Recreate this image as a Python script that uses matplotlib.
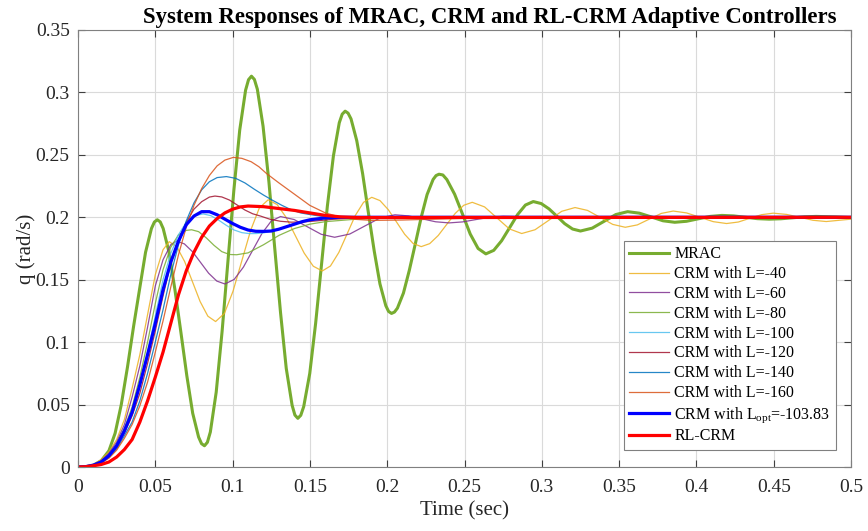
import matplotlib
matplotlib.use("Agg")
import matplotlib.pyplot as plt

# ---- data (time in s, q in rad/s) ----
t_mrac = [0, 0.005, 0.01, 0.015, 0.02, 0.024, 0.028, 0.032, 0.036, 0.0399, 0.0437, 0.0475, 0.0494, 0.0513, 0.0532,
          0.0551, 0.0589, 0.0627, 0.0666, 0.0704, 0.0742, 0.078, 0.0799, 0.0818, 0.0837,
          0.0856, 0.0894, 0.0932, 0.097, 0.1008, 0.1046, 0.1084, 0.1103, 0.1122, 0.1141,
          0.116, 0.1197, 0.1235, 0.1272, 0.131, 0.1347, 0.1385, 0.1403, 0.1422, 0.1441,
          0.146, 0.1499, 0.1537, 0.1575, 0.1613, 0.1652, 0.169, 0.1709, 0.1728, 0.1747,
          0.1766, 0.1803, 0.1841, 0.1878, 0.1916, 0.1953, 0.1991, 0.2009, 0.2028, 0.2047,
          0.2066, 0.2105, 0.2143, 0.2182, 0.222, 0.2258, 0.2297, 0.2316, 0.2335, 0.236,
          0.2386, 0.2436, 0.2487, 0.2537, 0.2588, 0.2638,
          0.2689, 0.274, 0.2792, 0.2843, 0.2894, 0.2945,
          0.2996, 0.3047, 0.3098, 0.3148, 0.3199, 0.325,
          0.3326, 0.3403, 0.3479, 0.3555,
          0.3631, 0.3708, 0.3784, 0.386,
          0.3936, 0.4013, 0.4089, 0.4165,
          0.4241, 0.4318, 0.4394, 0.447,
          0.4546, 0.4623, 0.4699, 0.4775,
          0.49, 0.5]
q_mrac = [0, 0.0002, 0.0015, 0.005, 0.013, 0.027, 0.05, 0.08, 0.113, 0.143, 0.172, 0.191, 0.1962, 0.198, 0.1963,
          0.191, 0.172, 0.142, 0.1075, 0.073, 0.043, 0.024, 0.0187, 0.017, 0.0198,
          0.028, 0.060, 0.1085, 0.165, 0.2215, 0.2698, 0.3018, 0.3102, 0.313, 0.3104,
          0.3026, 0.273, 0.2283, 0.176, 0.1237, 0.079, 0.0494, 0.0416, 0.039, 0.0414,
          0.0484, 0.0749, 0.115, 0.162, 0.209, 0.2491, 0.2757, 0.2826, 0.285, 0.2834,
          0.2788, 0.2614, 0.235, 0.204, 0.173, 0.1467, 0.1292, 0.1246, 0.123, 0.1241,
          0.1272, 0.1393, 0.1575, 0.1788, 0.200, 0.2182, 0.2303, 0.2334, 0.2345, 0.2339,
          0.2302, 0.2185, 0.2026, 0.1866, 0.175, 0.1707,
          0.1735, 0.1812, 0.1917, 0.2021, 0.2098, 0.2126,
          0.211, 0.2067, 0.2008, 0.1949, 0.1906, 0.189,
          0.1913, 0.1968, 0.2022, 0.2045,
          0.2033, 0.2003, 0.1972, 0.196,
          0.1968, 0.1988, 0.2007, 0.2015,
          0.2011, 0.2, 0.1989, 0.1985,
          0.1988, 0.1996, 0.2004, 0.2007,
          0.2003, 0.1997]

t_l40 = [0, .005, .01, .015, .02, .025, .03, .035, .04, .045, .05, .055, .059,
         .064, .069, .074, .079, .084, .089,
         .0947, .1003, .106, .1117, .1173, .123,
         .1288, .1347, .1405, .1463, .1522, .158,
         .1633, .1687, .174, .1793, .1847, .19,
         .1953, .2007, .206, .2113, .2167, .222,
         .2275, .233, .2385, .244, .2495, .255,
         .263, .271, .279, .287,
         .2956, .3043, .3129, .3215,
         .3296, .3378, .3459, .354,
         .3618, .3695, .3773, .385,
         .3936, .4023, .4109, .4195,
         .4271, .4346, .4422, .4497,
         .4583, .4669, .4754, .484, .5]
q_l40 = [0, .0003, .002, .006, .012, .022, .038, .063, .09, .122, .154, .174, .1805,
         .1762, .1645, .1485, .1325, .1208, .1165,
         .123, .1409, .1653, .1896, .2075, .214,
         .2102, .1998, .1855, .1713, .1608, .157,
         .161, .1718, .1865, .2013, .212, .216,
         .2134, .2061, .1963, .1864, .1791, .1765,
         .1789, .1854, .1943, .2031, .2096, .212,
         .2083, .1995, .1907, .187,
         .190, .1974, .2048, .2078,
         .2055, .1999, .1943, .192,
         .1939, .1985, .2031, .205,
         .2035, .2, .1965, .195,
         .1962, .1992, .2021, .2033,
         .2023, .2, .1976, .1966, .1985]

t_l60 = [0, .005, .01, .015, .02, .025, .03, .035, .04, .045, .05, .055, .06, .0636,
         .0688, .0741, .0793, .0845, .0898, .095,
         .101, .107, .113, .119, .125, .131,
         .1398, .1485, .1573, .166,
         .1758, .1855, .1953, .205,
         .2138, .2225, .2313, .24,
         .2488, .2575, .2663, .275,
         .31, .35, .5]
q_l60 = [0, .0003, .0018, .005, .011, .02, .034, .056, .081, .112, .145, .166, .178, .181,
         .1787, .1724, .1638, .1552, .1489, .1466,
         .1502, .1601, .1736, .1871, .197, .2006,
         .1982, .1923, .1864, .184,
         .1866, .193, .1994, .202,
         .2011, .1988, .1964, .1955,
         .1963, .1982, .2, .2008,
         .1998, .2, .2]

t_l80 = [0, .005, .01, .015, .02, .025, .03, .035, .04, .045, .05, .055, .06, .065, .07, .0735,
         .078, .083, .088, .093, .098, .1026, .11, .12, .13, .14, .15, .16, .17, .18, .2, .25, .5]
q_l80 = [0, .0003, .0016, .0045, .0095, .018, .031, .048, .072, .1, .131, .158, .176, .186, .1895, .19,
         .1885, .1835, .1775, .1725, .1702, .17, .1715, .178, .1855, .191, .1945, .1965, .1975, .1985,
         .1993, .2, .2]

t_l100 = [0, .005, .01, .015, .02, .025, .03, .035, .04, .045, .05, .055, .06, .065, .07, .075, .081,
          .086, .091, .096, .101, .106, .111, .1156, .12, .125, .13, .135, .14, .145, .15, .16, .17, .2, .5]
q_l100 = [0, .0003, .0015, .0042, .009, .017, .029, .045, .066, .092, .121, .15, .171, .186, .196, .2012,
          .2027, .2013, .1977, .1935, .1898, .1877, .1869, .187, .1875, .1888, .1905, .1925, .1945, .1962,
          .1978, .1993, .1998, .2, .2]

t_l120 = [0, .005, .01, .015, .02, .025, .03, .035, .04, .045, .05, .055, .06, .065, .07, .075, .08, .085,
          .0886, .093, .098, .103, .108, .113, .118, .124, .131, .138, .145, .155, .165, .18, .2, .5]
q_l120 = [0, .0003, .0014, .0038, .0082, .0155, .027, .041, .059, .083, .109, .137, .163, .182, .196, .2065,
          .2125, .2162, .217, .2163, .2138, .2098, .2058, .2028, .201, .1985, .1968, .1961, .1962, .1972,
          .1984, .1995, .2, .2]

t_l140 = [0, .005, .01, .015, .02, .025, .03, .035, .04, .045, .05, .055, .06, .065, .07, .075, .08, .085,
          .09, .096, .102, .108, .114, .12, .126, .132, .138, .144, .15, .16, .17, .185, .2, .25, .5]
q_l140 = [0, .0003, .0013, .0035, .0076, .0145, .025, .036, .053, .075, .1, .126, .154, .178, .197, .2115,
          .222, .2285, .2318, .2326, .2312, .2275, .2225, .2178, .2135, .2095, .206, .2035, .2022, .2003,
          .1994, .1993, .1997, .2, .2]

t_l160 = [0, .005, .01, .015, .02, .025, .03, .035, .04, .045, .05, .055, .06, .065, .07, .075, .08, .085,
          .09, .095, .1005, .106, .112, .117, .122, .13, .14, .15, .16, .17, .18, .19, .21, .23, .26, .3, .5]
q_l160 = [0, .0003, .0012, .0032, .007, .0135, .023, .034, .049, .068, .092, .117, .144, .17, .192, .2095,
          .223, .2335, .2412, .2458, .248, .2472, .2445, .2405, .235, .2275, .2185, .2095, .2035, .2,
          .1983, .1975, .1978, .1985, .1995, .2, .2]

t_opt = [0, .005, .01, .015, .02, .025, .03, .035, .04, .045, .05, .055, .06, .065, .07, .075, .08, .085,
         .09, .095, .1, .105, .11, .115, .12, .125, .13, .135, .14, .145, .15, .16, .17, .2, .5]
q_opt = [0, .0003, .0015, .004, .009, .017, .029, .044, .066, .09, .115, .142, .164, .181, .194, .201,
         .2045, .2045, .202, .1985, .195, .192, .1898, .1888, .1887, .189, .1905, .1925, .1945, .1965,
         .198, .1995, .2, .2, .2]

t_rl = [0, .005, .01, .015, .02, .025, .03, .035, .04, .045, .05, .055, .06, .065, .07, .075, .08, .085,
        .09, .095, .1, .105, .11, .12, .13, .14, .15, .16, .17, .18, .2, .5]
q_rl = [0, .0002, .001, .002, .004, .008, .014, .022, .036, .053, .072, .092, .115, .138, .157, .172,
        .184, .193, .199, .2035, .2065, .2083, .209, .2085, .207, .2055, .2035, .2015, .2003, .1998,
        .1998, .2]

x_ticks = [0, 0.05, 0.1, 0.15, 0.2, 0.25, 0.3, 0.35, 0.4, 0.45, 0.5]
x_ticklabels = ["0", "0.05", "0.1", "0.15", "0.2", "0.25", "0.3", "0.35", "0.4", "0.45", "0.5"]
y_ticks = [0, 0.05, 0.1, 0.15, 0.2, 0.25, 0.3, 0.35]
y_ticklabels = ["0", "0.05", "0.1", "0.15", "0.2", "0.25", "0.3", "0.35"]

plt.rcParams['font.family'] = ['Liberation Serif', 'DejaVu Serif']
plt.rcParams['mathtext.fontset'] = 'custom'
plt.rcParams['mathtext.rm'] = 'Liberation Serif'
plt.rcParams['mathtext.it'] = 'Liberation Serif:italic'

fig = plt.figure(figsize=(8.68, 5.31), dpi=100)
ax = fig.add_axes([78 / 868, 64 / 531, 773 / 868, 437 / 531])

thin = dict(lw=0.9, alpha=0.85)
ax.plot(t_mrac, q_mrac, color='#77AC30', lw=2.2, solid_joinstyle='round', label='MRAC')
ax.plot(t_l40, q_l40, color='#EDB120', label='CRM with L=-40', **thin)
ax.plot(t_l60, q_l60, color='#7E2F8E', label='CRM with L=-60', **thin)
ax.plot(t_l80, q_l80, color='#77AC30', label='CRM with L=-80', **thin)
ax.plot(t_l100, q_l100, color='#4DBEEE', label='CRM with L=-100', **thin)
ax.plot(t_l120, q_l120, color='#A2142F', label='CRM with L=-120', **thin)
ax.plot(t_l140, q_l140, color='#0072BD', label='CRM with L=-140', **thin)
ax.plot(t_l160, q_l160, color='#D95319', label='CRM with L=-160', **thin)
ax.plot(t_opt, q_opt, color='#0000FF', lw=2.3, solid_joinstyle='round',
        label=r'CRM with L$_{\mathrm{opt}}$=-103.83')
ax.plot(t_rl, q_rl, color='#FF0000', lw=2.3, solid_joinstyle='round', label='RL-CRM')

ax.set_xlim(0, 0.5)
ax.set_ylim(0, 0.35)
ax.set_xticks(x_ticks)
ax.set_xticklabels(x_ticklabels)
ax.set_yticks(y_ticks)
ax.set_yticklabels(y_ticklabels)
ax.tick_params(direction='in', top=True, right=True, length=5, width=0.8,
               colors='#404040', labelcolor='#262626', labelsize=14)
ax.tick_params(axis='x', pad=9)
ax.tick_params(axis='y', pad=6)
for s in ax.spines.values():
    s.set_color('#808080')
    s.set_linewidth(0.8)
ax.grid(True, color='#DADADA', lw=0.8)
ax.set_axisbelow(True)

ax.set_xlabel('Time (sec)', fontsize=15, color='#262626')
ax.set_ylabel('q (rad/s)', fontsize=15, color='#262626')
ax.xaxis.set_label_coords(0.5, -0.079)
ax.yaxis.set_label_coords(-0.054, 0.5)
ax.set_title('System Responses of MRAC, CRM and RL-CRM Adaptive Controllers',
             fontsize=16.4, fontweight='bold', x=0.533, pad=5)

leg = ax.legend(loc='lower right', bbox_to_anchor=(0.9806, 0.0389), borderaxespad=0,
                fontsize=11.5, handlelength=2.5, labelspacing=0.24, fancybox=False,
                framealpha=1, edgecolor='#808080', borderpad=0.35, handletextpad=0.3)
leg.get_frame().set_linewidth(0.8)

fig.savefig('out.png', dpi=100)
